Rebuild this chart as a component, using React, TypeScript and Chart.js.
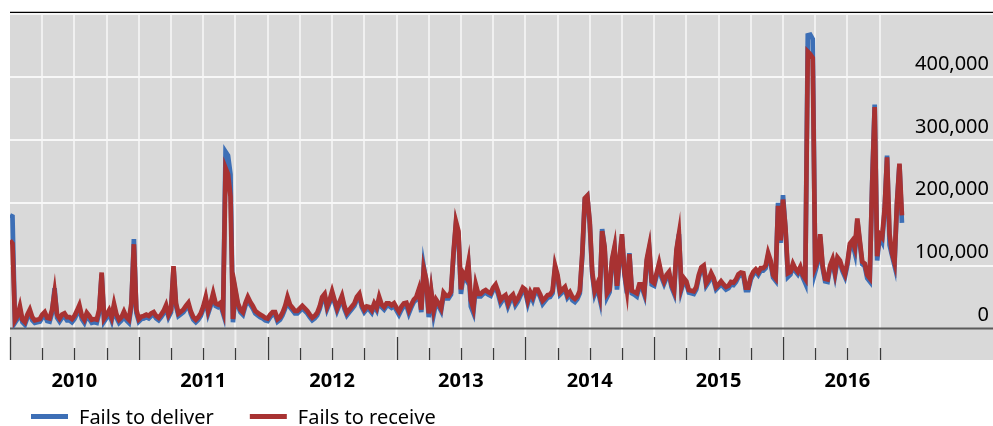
import React, { useEffect, useRef } from 'react';
import { Chart, registerables } from 'chart.js';

Chart.register(...registerables);

// Weekly observations, first one in mid-2009 (x axis in fractional years)
const firstWeek = 2009.5;
const weeksPerYear = 52;
const yearLabels = ['2010', '2011', '2012', '2013', '2014', '2015', '2016'];
const seriesLabels = ['Fails to deliver', 'Fails to receive'];
const seriesColors = ['#3d6fb6', '#a83232'];

// Values in thousands of dollars, one list per 52-week block
const deliverA = [180, 178, 9, 15, 30, 10, 6, 17, 25, 13, 9, 10, 11, 17, 21, 12, 11, 25, 64, 17, 11, 17, 19, 13, 13, 10, 15, 23, 32, 15, 9, 20, 15, 9, 10, 9, 25, 86, 11, 17, 24, 13, 34, 17, 9, 13, 22, 13, 9, 35, 142, 25];
const deliverB = [11, 15, 16, 18, 16, 20, 22, 16, 13, 18, 24, 33, 18, 26, 96, 36, 20, 23, 26, 32, 37, 23, 14, 10, 14, 20, 31, 46, 24, 36, 52, 36, 34, 37, 24, 281, 275, 245, 10, 58, 36, 26, 22, 36, 46, 38, 32, 24, 21, 18, 16, 13];
const deliverC = [12, 18, 22, 22, 11, 14, 21, 31, 46, 34, 29, 24, 24, 28, 32, 28, 24, 18, 13, 16, 21, 31, 46, 51, 31, 41, 55, 41, 28, 38, 48, 31, 21, 26, 31, 36, 46, 51, 34, 26, 31, 30, 25, 36, 29, 46, 34, 30, 36, 36, 33, 36];
const deliverD = [29, 22, 30, 36, 37, 24, 34, 42, 46, 58, 26, 98, 74, 18, 56, 22, 42, 36, 28, 53, 48, 48, 54, 116, 166, 151, 55, 84, 78, 100, 35, 25, 66, 51, 51, 55, 57, 54, 52, 61, 66, 55, 40, 46, 49, 35, 45, 50, 37, 43, 52, 61];
const deliverE = [58, 40, 54, 45, 58, 58, 50, 39, 44, 49, 50, 56, 96, 81, 54, 58, 62, 49, 54, 45, 42, 47, 56, 116, 205, 210, 166, 86, 55, 66, 48, 158, 126, 50, 58, 106, 126, 62, 106, 146, 86, 56, 120, 56, 54, 51, 66, 66, 54, 106, 126, 70];
const deliverF = [68, 84, 100, 81, 71, 81, 86, 66, 56, 121, 150, 62, 76, 71, 57, 56, 55, 62, 81, 93, 96, 68, 74, 84, 76, 62, 66, 71, 66, 62, 64, 70, 69, 74, 82, 85, 84, 61, 61, 78, 86, 90, 85, 92, 92, 96, 116, 104, 81, 76, 200, 136];
const deliverG = [212, 158, 82, 86, 99, 91, 86, 94, 81, 72, 466, 467, 460, 90, 104, 146, 96, 75, 74, 96, 106, 85, 109, 104, 91, 82, 101, 131, 136, 120, 171, 136, 102, 99, 80, 75, 232, 356, 108, 146, 138, 186, 275, 133, 116, 100, 198, 260, 168];

const receiveA = [140, 135, 13, 20, 35, 14, 10, 22, 30, 18, 13, 14, 15, 22, 26, 17, 16, 30, 58, 22, 16, 22, 24, 18, 18, 15, 20, 28, 37, 20, 14, 25, 20, 14, 15, 14, 30, 89, 16, 22, 29, 18, 39, 22, 14, 18, 27, 18, 14, 40, 134, 30];
const receiveB = [15, 19, 20, 22, 20, 24, 26, 20, 17, 22, 28, 37, 22, 30, 99, 40, 24, 27, 30, 36, 41, 27, 18, 14, 18, 24, 35, 50, 28, 40, 56, 40, 38, 41, 28, 255, 245, 210, 15, 62, 40, 30, 26, 40, 50, 42, 36, 28, 25, 22, 20, 17];
const receiveC = [16, 22, 26, 26, 15, 18, 25, 35, 50, 38, 33, 28, 28, 32, 36, 32, 28, 22, 17, 20, 25, 35, 50, 55, 35, 45, 59, 45, 32, 42, 52, 35, 25, 30, 35, 40, 50, 55, 38, 30, 35, 34, 29, 40, 33, 50, 38, 34, 40, 40, 37, 40];
const receiveD = [33, 27, 35, 40, 41, 29, 38, 46, 50, 62, 30, 95, 78, 24, 60, 29, 46, 40, 32, 57, 52, 52, 58, 120, 170, 155, 62, 88, 82, 104, 45, 32, 70, 55, 55, 59, 61, 58, 56, 65, 70, 59, 45, 50, 53, 40, 50, 54, 42, 48, 56, 65];
const receiveE = [62, 45, 58, 50, 62, 62, 54, 44, 48, 53, 54, 60, 100, 85, 58, 62, 66, 53, 58, 50, 47, 51, 60, 120, 207, 211, 170, 90, 60, 70, 53, 155, 130, 56, 62, 110, 130, 68, 110, 150, 90, 62, 118, 60, 58, 56, 70, 70, 58, 110, 130, 75];
const receiveF = [72, 88, 104, 85, 75, 85, 90, 70, 60, 125, 150, 66, 80, 75, 61, 60, 59, 66, 85, 97, 100, 72, 78, 88, 80, 66, 70, 75, 70, 66, 68, 74, 73, 78, 86, 89, 88, 65, 65, 82, 90, 94, 89, 96, 96, 100, 120, 108, 85, 80, 195, 140];
const receiveG = [205, 160, 88, 90, 103, 95, 90, 98, 85, 79, 440, 436, 430, 98, 108, 150, 100, 79, 78, 100, 110, 89, 113, 108, 95, 86, 105, 135, 140, 128, 175, 140, 106, 103, 85, 80, 230, 352, 115, 150, 145, 190, 272, 150, 120, 105, 200, 262, 180];

const failsToDeliver = [...deliverA, ...deliverB, ...deliverC, ...deliverD, ...deliverE, ...deliverF, ...deliverG];
const failsToReceive = [...receiveA, ...receiveB, ...receiveC, ...receiveD, ...receiveE, ...receiveF, ...receiveG];

const FONT = '"Noto Sans", "Open Sans", sans-serif';
const BAND_BOTTOM = 360;

const toPoints = (vals: number[]) =>
  vals.map((v, i) => ({ x: firstWeek + i / weeksPerYear, y: v * 1000 }));

const framePlugin = {
  id: 'frame',
  beforeDraw(chart: any) {
    const { ctx, chartArea } = chart;
    ctx.save();
    ctx.fillStyle = '#d9d9d9';
    ctx.fillRect(chartArea.left, chartArea.top, chartArea.right - chartArea.left, BAND_BOTTOM - chartArea.top);
    ctx.strokeStyle = '#000000';
    ctx.lineWidth = 1.5;
    ctx.beginPath();
    ctx.moveTo(chartArea.left, chartArea.top - 1.5);
    ctx.lineTo(chartArea.right, chartArea.top - 1.5);
    ctx.stroke();
    ctx.restore();
  },
  beforeDatasetsDraw(chart: any) {
    const { ctx, chartArea } = chart;
    const xs = chart.scales.x;
    const ys = chart.scales.y;
    const zeroY = ys.getPixelForValue(0);
    ctx.save();
    // white grid continuing into the band under the axis
    const first = Number(yearLabels[0]) - 0.5;
    const last = Number(yearLabels[yearLabels.length - 1]) + 0.25;
    ctx.strokeStyle = '#f0f0f0';
    ctx.lineWidth = 2;
    for (let q = first + 0.25; q <= last + 1e-6; q += 0.25) {
      const px = xs.getPixelForValue(q);
      ctx.beginPath();
      ctx.moveTo(px, zeroY);
      ctx.lineTo(px, BAND_BOTTOM);
      ctx.stroke();
    }
    // tick marks: long at year boundaries, short at quarters
    ctx.strokeStyle = '#3a3a3a';
    ctx.lineWidth = 1.3;
    for (let q = first; q <= last + 1e-6; q += 0.25) {
      const px = Math.round(xs.getPixelForValue(q)) + 0.5;
      const isLong = Math.abs(q - Math.round(q - 0.5) - 0.5) < 1e-6;
      ctx.beginPath();
      ctx.moveTo(px, isLong ? 337 : 348);
      ctx.lineTo(px, BAND_BOTTOM);
      ctx.stroke();
    }
    // zero line
    ctx.strokeStyle = '#5a5a5a';
    ctx.lineWidth = 2;
    ctx.beginPath();
    ctx.moveTo(chartArea.left, zeroY);
    ctx.lineTo(chartArea.right, zeroY);
    ctx.stroke();
    ctx.restore();
  },
  afterDraw(chart: any) {
    const { ctx } = chart;
    const xs = chart.scales.x;
    ctx.save();
    // year labels
    ctx.fillStyle = '#000000';
    ctx.font = `bold 20px ${FONT}`;
    ctx.textAlign = 'center';
    ctx.textBaseline = 'alphabetic';
    yearLabels.forEach((lab) => {
      ctx.fillText(lab, xs.getPixelForValue(Number(lab)), 387);
    });
    // legend
    ctx.font = `20px ${FONT}`;
    ctx.textAlign = 'left';
    let x = 31;
    const ly = 416.5;
    chart.data.datasets.forEach((ds: any) => {
      ctx.strokeStyle = ds.borderColor;
      ctx.lineWidth = 5;
      ctx.lineCap = 'butt';
      ctx.beginPath();
      ctx.moveTo(x, ly);
      ctx.lineTo(x + 37, ly);
      ctx.stroke();
      ctx.fillStyle = '#000000';
      ctx.fillText(ds.label, x + 48, 423.5);
      x = x + 48 + ctx.measureText(ds.label).width + 36;
    });
    ctx.restore();
  },
};

export default function App() {
  const ref = useRef<HTMLCanvasElement | null>(null);

  useEffect(() => {
    document.body.style.margin = '0';
    const canvas = ref.current;
    if (!canvas) return;
    const chart = new Chart(canvas, {
      type: 'line',
      data: {
        datasets: [
          {
            label: seriesLabels[0],
            data: toPoints(failsToDeliver),
            borderColor: seriesColors[0],
            backgroundColor: seriesColors[0],
            borderWidth: 4.7,
            pointRadius: 0,
            tension: 0,
            order: 2,
          },
          {
            label: seriesLabels[1],
            data: toPoints(failsToReceive),
            borderColor: seriesColors[1],
            backgroundColor: seriesColors[1],
            borderWidth: 4.7,
            pointRadius: 0,
            tension: 0,
            order: 1,
          },
        ],
      },
      options: {
        animation: false,
        responsive: false,
        devicePixelRatio: 1,
        events: [],
        layout: { padding: { left: 10, right: 0, top: 14, bottom: 97.5 } },
        plugins: {
          legend: { display: false },
          title: { display: false },
          tooltip: { enabled: false },
        },
        scales: {
          x: {
            type: 'linear',
            min: firstWeek,
            max: 2017.13,
            ticks: { display: false, stepSize: 0.25 },
            border: { display: false },
            grid: {
              drawTicks: false,
              lineWidth: 2,
              color: (c: any) => {
                const v = c.tick ? c.tick.value : 0;
                return v > firstWeek + 0.1 && v < Number(yearLabels[yearLabels.length - 1]) + 0.3 ? '#f0f0f0' : 'rgba(0,0,0,0)';
              },
            },
            afterFit: (s: any) => {
              s.height = 0;
              s.paddingLeft = 0;
              s.paddingRight = 0;
            },
          },
          y: {
            type: 'linear',
            position: 'right',
            min: 0,
            max: 500000,
            border: { display: false },
            grid: {
              drawTicks: false,
              lineWidth: 2,
              color: (c: any) => (c.tick && c.tick.value === 0 ? 'rgba(0,0,0,0)' : '#f7f7f7'),
            },
            ticks: {
              stepSize: 100000,
              mirror: true,
              padding: -4,
              labelOffset: -13,
              color: '#000000',
              font: { family: FONT, size: 20 },
              callback: (v: any) => (v > 400000 ? '' : Number(v).toLocaleString('en-US')),
            },
            afterFit: (s: any) => {
              s.width = 0;
              s.paddingTop = 0;
              s.paddingBottom = 0;
            },
          },
        },
      },
      plugins: [framePlugin],
    });
    return () => chart.destroy();
  }, []);

  return (
    <div style={{ width: 993, height: 426 }}>
      <canvas ref={ref} width={993} height={426} style={{ display: 'block' }} />
    </div>
  );
}
